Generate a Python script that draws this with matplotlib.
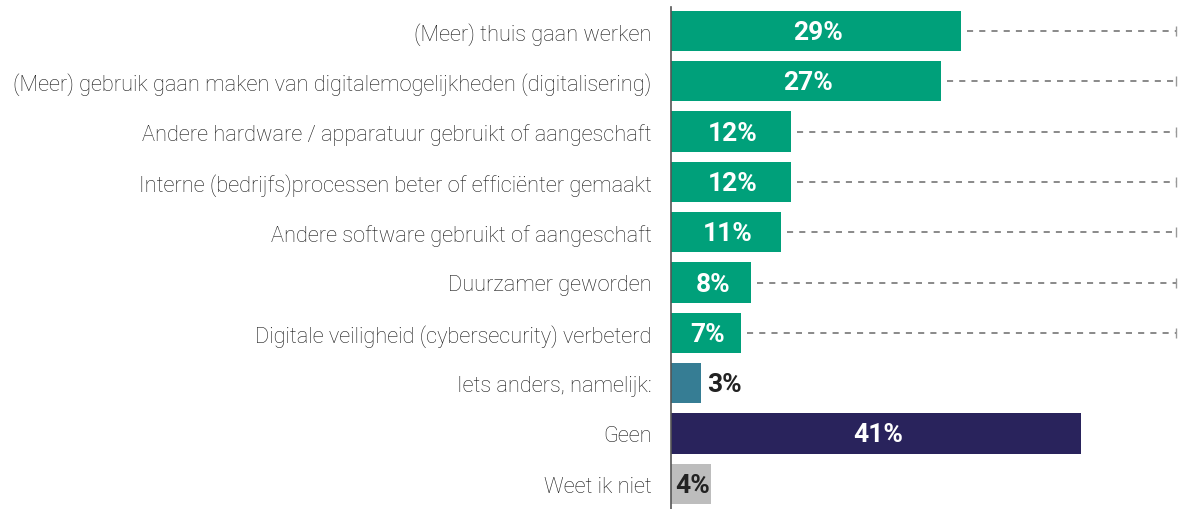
import matplotlib
matplotlib.use("Agg")
import matplotlib.pyplot as plt

categories = [
    "(Meer) thuis gaan werken",
    "(Meer) gebruik gaan maken van digitalemogelijkheden (digitalisering)",
    "Andere hardware / apparatuur gebruikt of aangeschaft",
    "Interne (bedrijfs)processen beter of efficiënter gemaakt",
    "Andere software gebruikt of aangeschaft",
    "Duurzamer geworden",
    "Digitale veiligheid (cybersecurity) verbeterd",
    "Iets anders, namelijk:",
    "Geen",
    "Weet ik niet",
]
values = [29, 27, 12, 12, 11, 8, 7, 3, 41, 4]
colors = ["#00a07a"] * 7 + ["#367d94", "#29235c", "#bdbdbd"]
text_colors = ["white"] * 7 + ["#222222", "white", "#222222"]
label_outside = [False] * 7 + [True, False, False]
dashed = [True] * 7 + [False, False, False]

fig = plt.figure(figsize=(11.78, 5.10), dpi=100)
ax = fig.add_axes([671 / 1178, 0.0, 1 - 671 / 1178, 1 - 8 / 510])

y = list(range(len(categories)))
ax.barh(y, values, height=0.8, color=colors, zorder=2)
xmax = (1178 - 671) / 10.0
ax.set_xlim(0, xmax)
ax.set_ylim((510 - 32) / 50.3, (8 - 32) / 50.3)

for i, v in enumerate(values):
    if label_outside[i]:
        ax.text(v + 0.6, i + 0.02, f"{v}%", ha="left", va="center", color=text_colors[i],
                fontsize=19, fontweight="bold", family=["Roboto", "DejaVu Sans"])
    else:
        ax.text(v / 2 + 0.2, i + 0.02, f"{v}%", ha="center", va="center", color=text_colors[i],
                fontsize=19, fontweight="bold", family=["Roboto", "DejaVu Sans"])
    if dashed[i]:
        ax.plot([v + 0.6, xmax - 0.25], [i, i], ls=(0, (4, 4)), color="#6a6a6a", lw=1.1, zorder=1)
        ax.plot([xmax - 0.25], [i], marker="|", color="#999999", ms=7, mew=1, zorder=1)

ax.set_yticks(y)
ax.set_yticklabels(categories, fontsize=15.7, color="#1a1a1a", family=["Roboto", "DejaVu Sans"],
                   fontweight="light")
ax.tick_params(axis="y", length=0, pad=14)
ax.set_xticks([])
for s in ["top", "right", "bottom"]:
    ax.spines[s].set_visible(False)
ax.spines["left"].set_color("#555555")
ax.spines["left"].set_linewidth(1.2)

fig.savefig("out.png", dpi=100)
